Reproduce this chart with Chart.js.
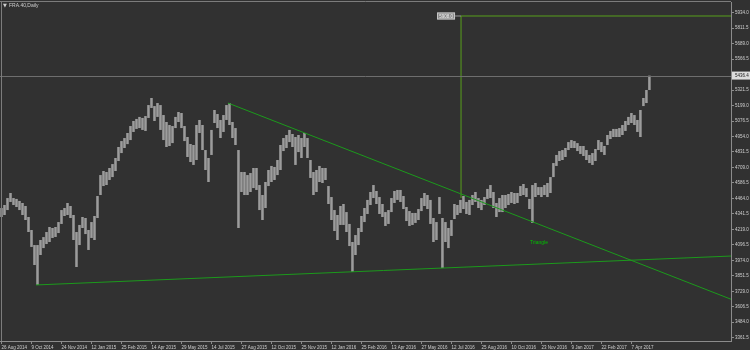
<!DOCTYPE html>
<html>
<head>
<meta charset="utf-8">
<script src="https://cdn.jsdelivr.net/npm/chart.js@4"></script>
<style>
  body { margin: 0; background: #313131; }
  canvas { display: block; }
</style>
</head>
<body>
<canvas id="priceChart" width="750" height="350"></canvas>
<script>
// FRA.40 daily, one sample per ~3 trading days (high / low of the bars)
const highs = [4388, 4412, 4467, 4507, 4467, 4460, 4444, 4428, 4404, 4317, 4214, 4095, 4095, 4135, 4158, 4198, 4238, 4230, 4238, 4277,
  4372, 4388, 4428, 4404, 4333, 4198, 4254, 4317, 4309, 4214, 4277, 4325, 4483, 4649, 4681, 4673, 4705, 4736, 4784, 4871,
  4918, 4942, 4982, 5037, 5077, 5093, 5109, 5101, 5116, 5203, 5259, 5195, 5219, 5203, 5124, 5069, 5045, 5037, 5109, 5148,
  5140, 5037, 4950, 4895, 4887, 5045, 5085, 5045, 4847, 4784, 5006, 5164, 5132, 5085, 5124, 5203, 5219, 5069, 5021, 4847,
  4673, 4673, 4649, 4665, 4705, 4705, 4570, 4491, 4594, 4689, 4721, 4713, 4768, 4887, 4942, 4966, 5006, 4974, 4950, 4966,
  4942, 4982, 4942, 4768, 4673, 4689, 4721, 4705, 4705, 4562, 4475, 4372, 4333, 4404, 4420, 4356, 4262, 4119, 4174, 4230,
  4325, 4388, 4452, 4515, 4570, 4523, 4475, 4420, 4356, 4372, 4467, 4523, 4531, 4531, 4483, 4396, 4364, 4349, 4349, 4380,
  4467, 4507, 4491, 4452, 4309, 4277, 4475, 4309, 4277, 4230, 4293, 4420, 4412, 4452, 4483, 4436, 4452, 4491, 4515, 4467,
  4452, 4475, 4539, 4570, 4515, 4428, 4467, 4491, 4491, 4499, 4515, 4507, 4507, 4562, 4578, 4546, 4460, 4570, 4586, 4554,
  4554, 4570, 4586, 4633, 4744, 4808, 4839, 4847, 4863, 4910, 4926, 4918, 4902, 4879, 4879, 4847, 4808, 4823, 4855, 4926,
  4910, 4879, 4966, 4998, 5014, 5014, 5021, 5045, 5077, 5109, 5140, 5124, 5085, 5164, 5259, 5322, 5436];
const lows = [4317, 4333, 4372, 4436, 4412, 4396, 4372, 4333, 4293, 4198, 4080, 3937, 3779, 4016, 4071, 4103, 4119, 4151, 4159, 4190,
  4262, 4325, 4333, 4309, 4135, 3921, 4095, 4230, 4182, 4056, 4151, 4135, 4309, 4491, 4562, 4570, 4610, 4633, 4681, 4760,
  4823, 4863, 4894, 4926, 4990, 5014, 5021, 5006, 4998, 5101, 5180, 5077, 5109, 5006, 4926, 4871, 4879, 4902, 5021, 5069,
  5021, 4918, 4792, 4752, 4729, 4768, 4982, 4847, 4689, 4594, 4808, 5061, 5021, 4942, 4990, 5085, 5045, 4942, 4887, 4230,
  4515, 4491, 4491, 4515, 4546, 4531, 4372, 4293, 4388, 4562, 4594, 4610, 4649, 4689, 4839, 4863, 4910, 4871, 4729, 4831,
  4784, 4871, 4784, 4626, 4491, 4515, 4594, 4586, 4610, 4420, 4293, 4206, 4135, 4254, 4254, 4198, 4087, 3882, 4016, 4095,
  4198, 4277, 4341, 4412, 4467, 4420, 4341, 4317, 4246, 4262, 4356, 4428, 4452, 4436, 4380, 4285, 4246, 4254, 4270, 4293,
  4364, 4404, 4380, 4262, 4119, 4135, 4341, 3913, 4119, 4071, 4167, 4301, 4333, 4349, 4380, 4341, 4333, 4412, 4436, 4388,
  4372, 4412, 4460, 4467, 4388, 4317, 4356, 4356, 4388, 4412, 4428, 4420, 4428, 4483, 4491, 4475, 4380, 4270, 4475, 4491,
  4475, 4491, 4475, 4507, 4633, 4721, 4760, 4768, 4792, 4847, 4863, 4863, 4839, 4816, 4800, 4768, 4744, 4729, 4760, 4847,
  4831, 4808, 4887, 4934, 4950, 4950, 4950, 4966, 4998, 5045, 5061, 5045, 4990, 4950, 5195, 5219, 5322];

const dateLabels = ['26 Aug 2014', '9 Oct 2014', '24 Nov 2014', '12 Jan 2015', '25 Feb 2015', '14 Apr 2015',
  '29 May 2015', '14 Jul 2015', '27 Aug 2015', '12 Oct 2015', '25 Nov 2015', '12 Jan 2016', '25 Feb 2016',
  '13 Apr 2016', '27 May 2016', '12 Jul 2016', '25 Aug 2016', '10 Oct 2016', '23 Nov 2016', '9 Jan 2017',
  '22 Feb 2017', '7 Apr 2017'];
const dateStep = 10;

const priceTicks = [3361.5, 3484.0, 3606.5, 3729.0, 3851.5, 3974.0, 4096.5, 4219.0, 4341.5, 4464.0, 4586.5,
  4709.0, 4831.5, 4954.0, 5076.5, 5199.0, 5321.5, 5444.0, 5566.5, 5689.0, 5811.5, 5934.0];

// drawn objects (sample index, price)
const lowerTrend = [{ x: 11.5, y: 3779 }, { x: 243.2, y: 4008 }];
const upperTrend = [{ x: 75.5, y: 5219 }, { x: 243.2, y: 3666 }];
const targetLine = [{ x: 153.2, y: 4467 }, { x: 153.2, y: 5908 }, { x: 243.2, y: 5908 }];
const targetLabel = '5908.0';
const lastPrice = 5436.4;
const triangleLabel = { x: 176.2, y: 4111, text: 'Triangle' };

const FONT = 'Liberation Sans';

const overlay = {
  id: 'overlay',
  beforeDraw(chart) {
    const ctx = chart.ctx;
    ctx.save();
    ctx.fillStyle = '#313131';
    ctx.fillRect(0, 0, chart.width, chart.height);
    ctx.restore();
  },
  afterDatasetsDraw(chart) {
    const { ctx, chartArea, scales } = chart;
    const xs = scales.x, ys = scales.y;
    ctx.save();

    // last price line
    const py = Math.round(ys.getPixelForValue(lastPrice)) + 0.5;
    ctx.strokeStyle = '#6e6e6e';
    ctx.lineWidth = 1;
    ctx.beginPath();
    ctx.moveTo(chartArea.left, py);
    ctx.lineTo(chartArea.right, py);
    ctx.stroke();

    // frame top / left
    ctx.strokeStyle = '#7c7c7c';
    ctx.beginPath();
    ctx.moveTo(0, chartArea.top - 0.5);
    ctx.lineTo(chartArea.right, chartArea.top - 0.5);
    ctx.moveTo(1.5, chartArea.top);
    ctx.lineTo(1.5, chartArea.bottom);
    ctx.stroke();

    // target price label
    const tx = xs.getPixelForValue(targetLine[1].x);
    const ty = ys.getPixelForValue(targetLine[1].y);
    ctx.strokeStyle = '#9a9a9a';
    ctx.beginPath();
    ctx.moveTo(tx - 6, ty);
    ctx.lineTo(tx, ty);
    ctx.stroke();
    ctx.fillStyle = '#8a8a8a';
    ctx.fillRect(tx - 24, ty - 3.5, 18, 7);
    ctx.strokeStyle = '#c8c8c8';
    ctx.strokeRect(tx - 23.5, ty - 3, 17, 6);
    ctx.fillStyle = '#f2f2f2';
    ctx.font = '4.5px "' + FONT + '"';
    ctx.textAlign = 'center';
    ctx.textBaseline = 'middle';
    ctx.fillText(targetLabel, tx - 15, ty + 0.3);

    // pattern name
    ctx.fillStyle = '#00c000';
    ctx.font = '5px "' + FONT + '"';
    ctx.textAlign = 'left';
    ctx.fillText(triangleLabel.text, xs.getPixelForValue(triangleLabel.x), ys.getPixelForValue(triangleLabel.y));

    // title
    ctx.fillStyle = '#cfcfcf';
    ctx.font = '5px "DejaVu Sans"';
    ctx.fillText('\u25BC', 3, 6);
    ctx.font = '5px "' + FONT + '"';
    ctx.fillText('FRA.40,Daily', 9, 6);
    ctx.restore();
  },
  afterDraw(chart) {
    const { ctx, chartArea, scales } = chart;
    const py = scales.y.getPixelForValue(lastPrice);
    ctx.save();
    ctx.fillStyle = '#dcdcdc';
    ctx.fillRect(chartArea.right + 1, py - 4, chart.width - chartArea.right - 1, 8);
    ctx.fillStyle = '#202020';
    ctx.font = '4.5px "' + FONT + '"';
    ctx.textBaseline = 'middle';
    ctx.textAlign = 'left';
    ctx.fillText(lastPrice.toFixed(1), chartArea.right + 4, py + 0.3);
    ctx.restore();
  }
};

const barData = highs.map((h, i) => ({ x: i, y: [lows[i], h] }));

new Chart(document.getElementById('priceChart'), {
  type: 'bar',
  data: {
    datasets: [
      {
        type: 'line', data: lowerTrend, borderColor: '#1c9a1c', borderWidth: 1,
        pointRadius: 0, order: 1
      },
      {
        type: 'line', data: upperTrend, borderColor: '#1c9a1c', borderWidth: 1,
        pointRadius: 0, order: 1
      },
      {
        type: 'line', data: targetLine, borderColor: '#58a01c', borderWidth: 1,
        pointRadius: 0, order: 1
      },
      {
        data: barData, backgroundColor: '#9c9c9c', borderWidth: 0,
        barPercentage: 0.85, categoryPercentage: 1, order: 2
      }
    ]
  },
  options: {
    responsive: false,
    animation: false,
    layout: { padding: { top: 2, left: 0, right: 0, bottom: 0 } },
    plugins: { legend: { display: false }, tooltip: { enabled: false } },
    scales: {
      x: {
        type: 'linear',
        offset: false,
        min: -0.5,
        max: 243.2,
        afterBuildTicks: (scale) => {
          scale.ticks = dateLabels.map((_, k) => ({ value: k * dateStep }));
        },
        afterFit: (scale) => {
          scale.height = 9;
          scale.paddingLeft = 0;
          scale.paddingRight = 0;
        },
        ticks: {
          autoSkip: false,
          maxRotation: 0,
          align: 'start',
          padding: 1,
          color: '#cfcfcf',
          font: { family: FONT, size: 4.5 },
          callback: (v) => dateLabels[Math.round(v / dateStep)]
        },
        grid: { drawOnChartArea: false, offset: false, tickLength: 3, color: '#8c8c8c' },
        border: { color: '#8c8c8c' }
      },
      y: {
        position: 'right',
        min: 3335.5,
        max: 6018.7,
        afterBuildTicks: (scale) => {
          scale.ticks = priceTicks.map((v) => ({ value: v }));
        },
        afterFit: (scale) => {
          scale.width = 19;
          scale.paddingTop = 0;
          scale.paddingBottom = 0;
        },
        ticks: {
          padding: 1,
          color: '#cfcfcf',
          font: { family: FONT, size: 4.5 },
          callback: (v) => Number(v).toFixed(1)
        },
        grid: { drawOnChartArea: false, tickLength: 3, color: '#8c8c8c' },
        border: { color: '#8c8c8c' }
      }
    }
  },
  plugins: [overlay]
});
</script>
</body>
</html>
